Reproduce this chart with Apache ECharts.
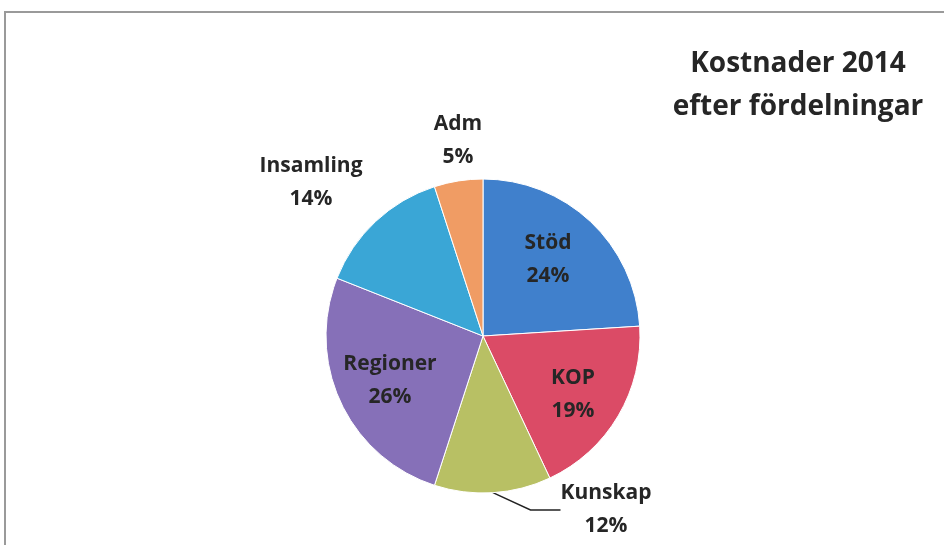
<!DOCTYPE html>
<html>
<head>
<meta charset="utf-8">
<script src="https://cdn.jsdelivr.net/npm/echarts@6/dist/echarts.min.js"></script>
<style>
  html, body { margin: 0; padding: 0; background: #fff; }
  #main { width: 944px; height: 545px; }
</style>
</head>
<body>
<div id="main"></div>
<script>
// Kostnader 2014 efter fördelningar
var categories = ['Stöd', 'KOP', 'Kunskap', 'Regioner', 'Insamling', 'Adm'];
var shares = [24, 19, 12, 26, 14, 5];
var sliceColors = ['#4080cc', '#db4b66', '#b8c064', '#8670b8', '#3aa6d6', '#f09c64'];
// label centres
var labelSpots = [[548, 260], [573, 395], [606, 510], [390, 381], [311, 183], [458, 141]];

var myChart = echarts.init(document.getElementById('main'));

var pieData = categories.map(function (name, i) {
  var item = { name: name, value: shares[i], itemStyle: { color: sliceColors[i] } };
  if (name === 'Kunskap') {
    item.label = { position: 'outside' };
    item.labelLine = { show: true, length: 8, length2: 30, lineStyle: { color: '#222', width: 1.5 } };
  }
  return item;
});

myChart.setOption({
  animation: false,
  title: {
    text: 'Kostnader 2014\nefter fördelningar',
    left: 793,
    top: 38,
    textAlign: 'center',
    textStyle: {
      fontFamily: 'Open Sans',
      fontWeight: 'bold',
      fontSize: 28,
      lineHeight: 43,
      color: '#262626'
    }
  },
  graphic: [{
    type: 'rect',
    shape: { x: 5, y: 12, width: 960, height: 560 },
    style: { fill: 'none', stroke: '#9a9a9a', lineWidth: 2 },
    silent: true
  }],
  series: [{
    type: 'pie',
    center: [483, 336],
    radius: [0, 157],
    startAngle: 90,
    clockwise: true,
    itemStyle: { borderColor: '#fff', borderWidth: 1 },
    label: {
      show: true,
      position: 'inside',
      formatter: '{b}\n{d}%',
      fontFamily: 'Open Sans',
      fontWeight: 'bold',
      fontSize: 21,
      lineHeight: 33,
      color: '#262626'
    },
    labelLine: { show: false },
    labelLayout: function (params) {
      var p = labelSpots[params.dataIndex];
      return { x: p[0], y: p[1], align: 'center', verticalAlign: 'middle' };
    },
    data: pieData
  }]
});
</script>
</body>
</html>
